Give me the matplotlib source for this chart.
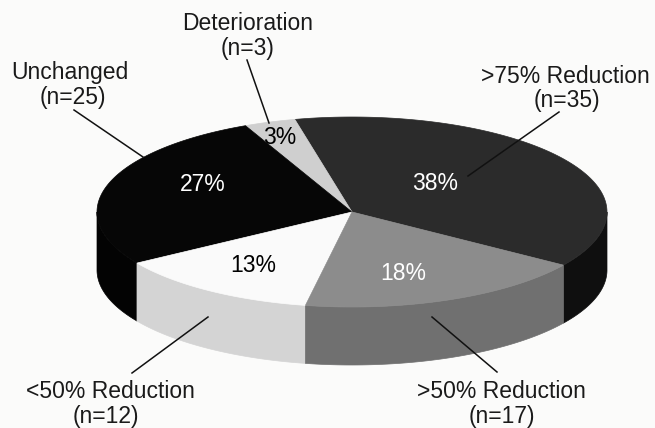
import numpy as np
import matplotlib
matplotlib.use("Agg")
import matplotlib.pyplot as plt
from matplotlib.patches import Polygon

# patient outcome groups, counter-clockwise from the start angle
groups = [">75% Reduction", "Deterioration", "Unchanged", "<50% Reduction", ">50% Reduction"]
counts = [35, 3, 25, 12, 17]

top_colors = ["#2b2b2b", "#cfcfcf", "#060606", "#fafafa", "#8c8c8c"]
side_colors = ["#0f0f0f", "#b8b8b8", "#030303", "#d4d4d4", "#707070"]
pct_colors = ["white", "black", "white", "black", "white"]

# layout in pixels (y down)
cx, cy = 352, 212      # centre of top face
rx, ry = 255, 95       # ellipse radii
depth = 58
start = -34.0

pct_pos = [(435, 183), (280, 137), (203, 184), (253, 266), (403, 274)]
name_pos = [(565, 76), (248, 23), (70, 72), (110, 391), (501, 391)]
count_pos = [(567, 100), (248, 48), (73, 97), (106, 416), (502, 416)]
leader = [((559, 112), (468, 176)),
          ((247, 60), (269, 123)),
          ((74, 110), (143, 157)),
          ((132, 373), (208, 317)),
          ((497, 372), (432, 317))]

plt.rcParams["font.family"] = ["Liberation Sans", "DejaVu Sans"]

fig = plt.figure(figsize=(6.55, 4.28), dpi=100)
fig.patch.set_facecolor("#fbfbfa")
ax = fig.add_axes([0, 0, 1, 1])
ax.set_xlim(0, 655)
ax.set_ylim(428, 0)
ax.axis("off")


def arc(t0, t1, dy=0.0, n=120):
    t = np.radians(np.linspace(t0, t1, n))
    return np.column_stack([cx + rx * np.cos(t), cy - ry * np.sin(t) + dy])


total = sum(counts)
spans = [c / total * 360.0 for c in counts]
edges = start + np.concatenate([[0], np.cumsum(spans)])

# side walls: only the front half (180..360 deg) is visible
for i in range(len(counts)):
    t0, t1 = edges[i], edges[i + 1]
    for k in (-360, 0, 360):
        a0 = max(t0 + k, 180.0)
        a1 = min(t1 + k, 360.0)
        if a1 > a0:
            up = arc(a0, a1)
            down = arc(a0, a1, dy=depth)[::-1]
            ax.add_patch(Polygon(np.vstack([up, down]), closed=True,
                                 facecolor=side_colors[i], edgecolor=side_colors[i],
                                 linewidth=0.5))

# top faces
for i in range(len(counts)):
    pts = np.vstack([[cx, cy], arc(edges[i], edges[i + 1])])
    ax.add_patch(Polygon(pts, closed=True, facecolor=top_colors[i],
                         edgecolor=top_colors[i], linewidth=0.5))

for i, c in enumerate(counts):
    pct = round(c / total * 100)
    ax.text(*pct_pos[i], f"{pct}%", color=pct_colors[i], fontsize=16.5,
            ha="center", va="center")
    ax.text(*name_pos[i], groups[i], color="#1a1a1a", fontsize=16.5,
            ha="center", va="center")
    ax.text(*count_pos[i], f"(n={c})", color="#1a1a1a", fontsize=16.5,
            ha="center", va="center")
    (x0, y0), (x1, y1) = leader[i]
    ax.plot([x0, x1], [y0, y1], color="#111111", linewidth=1.1)

fig.savefig("out.png", dpi=100, facecolor=fig.get_facecolor())
